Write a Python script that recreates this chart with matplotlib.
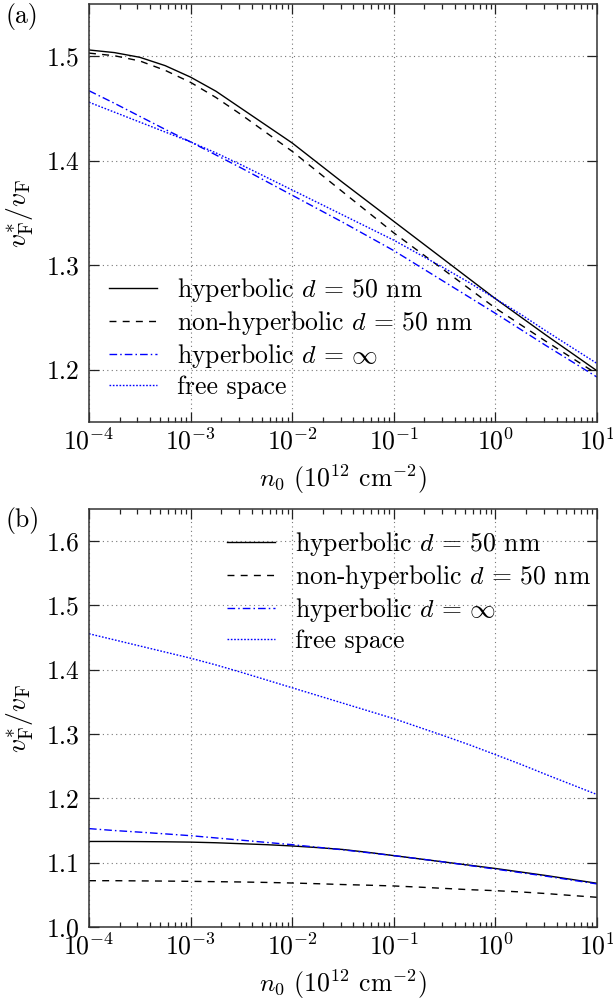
import numpy as np
import matplotlib
matplotlib.use("Agg")
import matplotlib.pyplot as plt

plt.rcParams['font.family'] = 'serif'
plt.rcParams['font.serif'] = ['cmr10', 'DejaVu Serif']
plt.rcParams['mathtext.fontset'] = 'cm'
plt.rcParams['axes.formatter.use_mathtext'] = True
plt.rcParams['axes.unicode_minus'] = True

# ---- data ----
log_n0 = [-4.0, -3.75, -3.5, -3.25, -3.0, -2.75, -2.5, -2.25, -2.0, -1.75, -1.5,
          -1.25, -1.0, -0.75, -0.5, -0.25, 0.0, 0.25, 0.5, 0.75, 1.0]
n0 = 10.0 ** np.array(log_n0)

# panel (a)
a_hyp50 = [1.506, 1.5035, 1.499, 1.491, 1.480, 1.4665, 1.450, 1.4335, 1.417, 1.398, 1.379,
           1.3605, 1.342, 1.3235, 1.305, 1.2865, 1.268, 1.2505, 1.233, 1.216, 1.199]
a_nonhyp50 = [1.503, 1.5005, 1.4955, 1.4865, 1.475, 1.4605, 1.444, 1.4265, 1.409, 1.3895, 1.370,
              1.3505, 1.331, 1.313, 1.295, 1.277, 1.259, 1.243, 1.227, 1.2115, 1.196]
a_hypinf = [1.467, 1.455, 1.4425, 1.430, 1.418, 1.4055, 1.393, 1.380, 1.367, 1.354, 1.341,
            1.3275, 1.314, 1.299, 1.284, 1.269, 1.254, 1.2385, 1.223, 1.208, 1.193]
free_space = [1.456, 1.4465, 1.437, 1.4275, 1.418, 1.4075, 1.396, 1.384, 1.372, 1.360, 1.348,
              1.336, 1.324, 1.3105, 1.297, 1.283, 1.268, 1.253, 1.237, 1.2215, 1.206]

# panel (b)
b_hyp50 = [1.133, 1.133, 1.1328, 1.1325, 1.132, 1.131, 1.1295, 1.128, 1.126, 1.1235, 1.1205,
           1.116, 1.111, 1.106, 1.101, 1.096, 1.091, 1.0855, 1.080, 1.074, 1.068]
b_nonhyp50 = [1.072, 1.072, 1.0717, 1.0714, 1.071, 1.0705, 1.070, 1.0693, 1.0684, 1.0673, 1.066,
              1.065, 1.0638, 1.062, 1.060, 1.058, 1.0565, 1.0545, 1.052, 1.049, 1.0462]
b_hypinf = [1.153, 1.150, 1.1475, 1.1448, 1.142, 1.1385, 1.135, 1.1315, 1.128, 1.124, 1.120,
            1.1155, 1.111, 1.106, 1.101, 1.0955, 1.090, 1.0845, 1.079, 1.073, 1.067]

labels = [r'hyperbolic $d\,=\,50$ nm', r'non-hyperbolic $d\,=\,50$ nm',
          r'hyperbolic $d\,=\,\infty$', 'free space']
xticks = [1e-4, 1e-3, 1e-2, 1e-1, 1e0, 1e1]
a_yticks = [1.2, 1.3, 1.4, 1.5]
b_yticks = [1.0, 1.1, 1.2, 1.3, 1.4, 1.5, 1.6]

FS = 18.5
fig = plt.figure(figsize=(6.13, 10.01), dpi=100)
W, H = 613, 1001
axA = fig.add_axes([89 / W, 1 - 422 / H, 508 / W, 418 / H])
axB = fig.add_axes([89 / W, 1 - 927 / H, 508 / W, 418 / H])

styles = [dict(color='black', ls='-'),
          dict(color='black', ls=(0, (5, 4.5))),
          dict(color='#0000ff', ls=(0, (5.5, 2.2, 1.1, 2.2))),
          dict(color='#0000ff', ls=(0, (1.2, 1.2)))]

def setup(ax, ylim, yticks):
    ax.set_xscale('log')
    ax.set_xlim(1e-4, 1e1)
    ax.set_ylim(*ylim)
    ax.set_xticks(xticks)
    ax.set_yticks(yticks)
    ax.set_yticklabels([f'{t:.1f}' for t in yticks])
    ax.tick_params(which='both', direction='in', top=True, right=True,
                   labelsize=FS, width=0.9, color='#222222')
    ax.tick_params(which='major', length=7)
    ax.tick_params(axis='x', which='major', pad=4)
    ax.tick_params(axis='y', which='major', pad=7)
    ax.tick_params(which='minor', length=3.6)
    ax.tick_params(axis='y', which='minor', left=False, right=False)
    ax.grid(True, which='major', ls=(0, (1, 3)), color='#777777', lw=0.8)
    for s in ax.spines.values():
        s.set_linewidth(1.1)
        s.set_color('#333333')
    ax.set_xlabel(r'$n_0$ $(10^{12}$ cm$^{-2})$', fontsize=FS)
    ax.xaxis.set_label_coords(0.5, -0.098)
    ax.set_ylabel(r'$v_{\rm F}^{*}/v_{\rm F}$', fontsize=20)
    ax.yaxis.set_label_coords(-0.104, 0.5)

for ys, st, lab in zip([a_hyp50, a_nonhyp50, a_hypinf, free_space], styles, labels):
    axA.plot(n0, ys, lw=1.0, label=lab, **st)
for ys, st, lab in zip([b_hyp50, b_nonhyp50, b_hypinf, free_space], styles, labels):
    axB.plot(n0, ys, lw=1.0, label=lab, **st)

setup(axA, (1.15, 1.55), a_yticks)
setup(axB, (1.0, 1.65), b_yticks)

legkw = dict(frameon=False, fontsize=FS, handlelength=1.87, handletextpad=0.78,
             labelspacing=0.2, borderpad=0, borderaxespad=0)
axA.legend(loc='upper left', bbox_to_anchor=(0.040, 0.349), **legkw)
axB.legend(loc='upper left', bbox_to_anchor=(0.272, 0.950), **legkw)

fig.text(5 / W, 1 - 16 / H, '(a)', fontsize=FS, va='center', ha='left')
fig.text(5 / W, 1 - 521 / H, '(b)', fontsize=FS, va='center', ha='left')

fig.savefig('out.png', dpi=100)
